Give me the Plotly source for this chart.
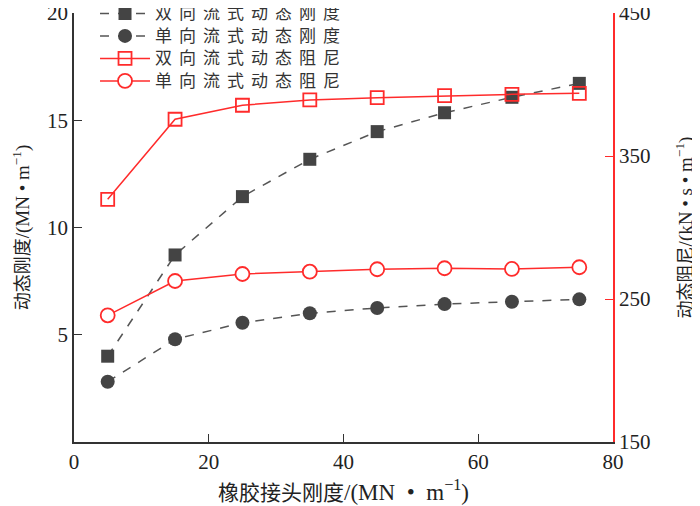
import plotly.graph_objects as go

x_vals = [5, 15, 25, 35, 45, 55, 65, 75]
stiff_bi = [4.0, 8.72, 11.44, 13.18, 14.47, 15.35, 16.07, 16.72]
stiff_uni = [2.81, 4.79, 5.56, 6.0, 6.25, 6.43, 6.54, 6.65]
damp_bi = [319.7, 375.7, 385.5, 389.2, 390.8, 392.2, 393.1, 393.8]
damp_uni = [238.6, 262.6, 267.5, 269.1, 270.8, 271.5, 271.0, 272.2]

names = ["双向流式动态刚度", "单向流式动态刚度", "双向流式动态阻尼", "单向流式动态阻尼"]
DOT = " \u00a0•\u00a0 "
x_title = ("橡胶接头刚度", f"/(MN{DOT}m<sup>−1</sup>)")
y_title = ("动态刚度", "/(MN • m<sup>−1</sup>)")
y2_title = ("动态阻尼", "/(kN • s • m<sup>−1</sup>)")

GRAY = "#444444"
LGRAY = "#555555"
RED = "#ff2b2b"
SERIF = "Liberation Serif"
CJK = "Noto Sans CJK SC"

def spaced(t, ls=7, fs=17):
    return f"<span style='letter-spacing:{ls}px;font-size:{fs}px'>{t}</span>"

fig = go.Figure()
fig.add_trace(go.Scatter(x=x_vals, y=stiff_bi, name=spaced(names[0]), mode="lines+markers",
                         line=dict(color=LGRAY, width=1.5, dash="dash"),
                         marker=dict(symbol="square", size=13, color=GRAY)))
fig.add_trace(go.Scatter(x=x_vals, y=stiff_uni, name=spaced(names[1]), mode="lines+markers",
                         line=dict(color=LGRAY, width=1.5, dash="dash"),
                         marker=dict(symbol="circle", size=14, color=GRAY)))
fig.add_trace(go.Scatter(x=x_vals, y=damp_bi, name=spaced(names[2]), mode="lines+markers", yaxis="y2",
                         line=dict(color=RED, width=1.5),
                         marker=dict(symbol="square-open", size=13, color=RED, line=dict(width=1.8))))
fig.add_trace(go.Scatter(x=x_vals, y=damp_uni, name=spaced(names[3]), mode="lines+markers", yaxis="y2",
                         line=dict(color=RED, width=1.5),
                         marker=dict(symbol="circle", size=14, color="white", line=dict(width=1.8, color=RED))))

def title_html(parts, cn_fs, lat_fs):
    cn, latin = parts
    return (f"<span style='font-family:{CJK};font-size:{cn_fs}px'>{cn}</span>"
            f"<span style='font-family:{SERIF};font-size:{lat_fs}px'>{latin}</span>")

axis_common = dict(ticks="inside", ticklen=8, showgrid=False, zeroline=False, showline=True,
                   linewidth=1.5, automargin=False, ticklabeloverflow="allow")

# page body has an 8px default margin; size and margins compensate for it
fig.update_layout(
    width=692, height=498,
    margin=dict(l=66, r=87, t=5, b=64, autoexpand=False),
    paper_bgcolor="white", plot_bgcolor="white",
    font=dict(family=SERIF, size=18, color="#222222"),
    showlegend=True,
    legend=dict(x=0.039, y=1.037, xanchor="left", yanchor="top",
                bgcolor="rgba(0,0,0,0)", font=dict(family=CJK, size=15, color="#333333"),
                tracegroupgap=0, itemwidth=50),
    xaxis=dict(range=[0, 80], tickvals=[0, 20, 40, 60, 80], linecolor="#333333",
               tickcolor="#333333", tickfont=dict(family=SERIF, size=21),
               title=dict(text=title_html(x_title, 21, 23), font=dict(size=22), standoff=15),
               **axis_common),
    yaxis=dict(range=[0, 20], tickvals=[5, 10, 15, 20], linecolor="#333333",
               tickcolor="#333333", tickfont=dict(family=SERIF, size=21),
               title=dict(text=title_html(y_title, 18, 19), font=dict(size=20), standoff=20),
               **axis_common),
    yaxis2=dict(range=[150, 450], tickvals=[150, 250, 350, 450],
                overlaying="y", side="right", anchor="x", linecolor=RED, tickcolor=RED,
                tickfont=dict(family=SERIF, size=21, color="#222222"),
                title=dict(text=title_html(y2_title, 18, 19), font=dict(size=20), standoff=29),
                **axis_common),
)

fig.write_html("out.html")
